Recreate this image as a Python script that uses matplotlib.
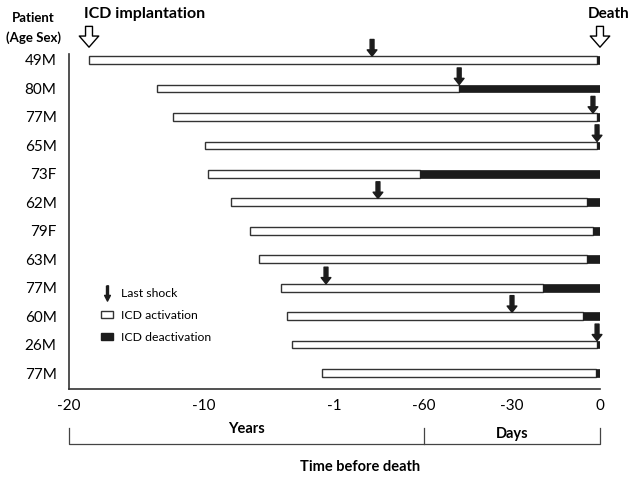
import numpy as np
import matplotlib.pyplot as plt
from matplotlib.path import Path
from matplotlib.patches import Patch
from matplotlib.lines import Line2D

plt.rcParams['font.family'] = ['Lato', 'DejaVu Sans']

patients = ['49M', '80M', '77M', '65M', '73F', '62M', '79F', '63M', '77M', '60M', '26M', '77M']
# everything in days before death
implant = [-6759, -4921, -4488, -3625, -3549, -2968, -2488, -2260, -1704, -1553, -1426, -668]
deactivation = [-1, -48, -1, -1, -74, -4.4, -2.4, -4.4, -19.4, -5.8, -1, -1.4]
last_shock = [-236, -48, -2.4, -1, None, -216, None, None, -567, -30, -1, None]

tick_days = [-7300, -3650, -365, -60, -30, 0]
tick_labels = ['-20', '-10', '-1', '-60', '-30', '0']
# broken time axis: years on the left part, days on the right part
break_pos = [0, 135, 265, 355, 443, 531]


def forward(x):
    return np.interp(x, tick_days, break_pos)


def inverse(p):
    return np.interp(p, break_pos, tick_days)


fig = plt.figure(figsize=(6.36, 4.79), dpi=100)
ax = fig.add_axes([69 / 636, 1 - 389 / 479, 531 / 636, 335 / 479])
ax.set_xscale('function', functions=(forward, inverse))

rows = np.arange(len(patients))
h = 0.27
ink = '#1c1c1c'
ax.barh(rows, np.array(deactivation) - np.array(implant), left=implant, height=h,
        color='white', edgecolor='#333333', linewidth=1.0)
ax.barh(rows, -np.array(deactivation), left=deactivation, height=h,
        color=ink, edgecolor=ink, linewidth=0.5)

for r, s in zip(rows, last_shock):
    if s is None:
        continue
    ax.annotate('', xy=(s, r - h / 2), xytext=(s, r - 0.72),
                arrowprops=dict(width=2.8, headwidth=7, headlength=4.5, color=ink, shrink=0),
                annotation_clip=False)

# hollow arrows for implantation / death
for x0 in [implant[0], 0]:
    ax.annotate('', xy=(x0, -0.45), xytext=(x0, -1.18),
                arrowprops=dict(width=5, headwidth=14, headlength=8, facecolor='white',
                                edgecolor='black', lw=1, shrink=0),
                annotation_clip=False)

ax.set_xlim(-7300, 0)
ax.set_ylim(len(patients) - 1 + 0.56, -0.21)
ax.set_xticks(tick_days)
ax.set_xticklabels(tick_labels, fontsize=11)
ax.set_yticks(rows)
ax.set_yticklabels(patients, fontsize=11)
ax.tick_params(length=0)
ax.tick_params(axis='x', pad=7)
ax.tick_params(axis='y', pad=9)
ax.minorticks_off()
for side in ['top', 'right']:
    ax.spines[side].set_visible(False)
for side in ['left', 'bottom']:
    ax.spines[side].set_color('#333333')
    ax.spines[side].set_linewidth(1.2)

# years / days bracket
trans = ax.get_xaxis_transform()
ax.plot([tick_days[0], tick_days[0], tick_days[-1], tick_days[-1]], [-0.115, -0.165, -0.165, -0.115],
        color='#444444', lw=0.9, transform=trans, clip_on=False)
ax.plot([-60, -60], [-0.115, -0.165], color='#444444', lw=0.9, transform=trans, clip_on=False)
ax.text(0.334, -0.12, 'Years', transform=ax.transAxes, ha='center', va='center',
        fontsize=10.5, fontweight='bold')
ax.text(-30, -0.135, 'Days', transform=trans, ha='center', va='center',
        fontsize=10.5, fontweight='bold')
ax.text(0.548, -0.233, 'Time before death', transform=ax.transAxes, ha='center', va='center',
        fontsize=10.5, fontweight='bold')

fig.text(84 / 636, 1 - 14 / 479, 'ICD implantation', ha='left', va='center',
         fontsize=11.5, fontweight='bold')
fig.text(609 / 636, 1 - 14 / 479, 'Death', ha='center', va='center',
         fontsize=11, fontweight='bold')
fig.text(33 / 636, 1 - 18 / 479, 'Patient', ha='center', va='center',
         fontsize=9.5, fontweight='bold')
fig.text(33 / 636, 1 - 38 / 479, '(Age Sex)', ha='center', va='center',
         fontsize=9.5, fontweight='bold')

arrow_marker = Path([(-0.13, 1), (0.13, 1), (0.13, -0.25), (0.38, -0.25), (0, -1),
                     (-0.38, -0.25), (-0.13, -0.25), (-0.13, 1)])
handles = [Line2D([], [], marker=arrow_marker, color=ink, linestyle='none', markersize=11),
           Patch(facecolor='white', edgecolor='#333333'),
           Patch(facecolor=ink, edgecolor=ink)]
ax.legend(handles, ['Last shock', 'ICD activation', 'ICD deactivation'],
          loc='upper left', bbox_to_anchor=(0.04, 0.335), frameon=False, fontsize=8.8,
          handlelength=1.0, handleheight=0.5, handletextpad=0.6, labelspacing=0.9)

fig.savefig('out.png', dpi=100)
